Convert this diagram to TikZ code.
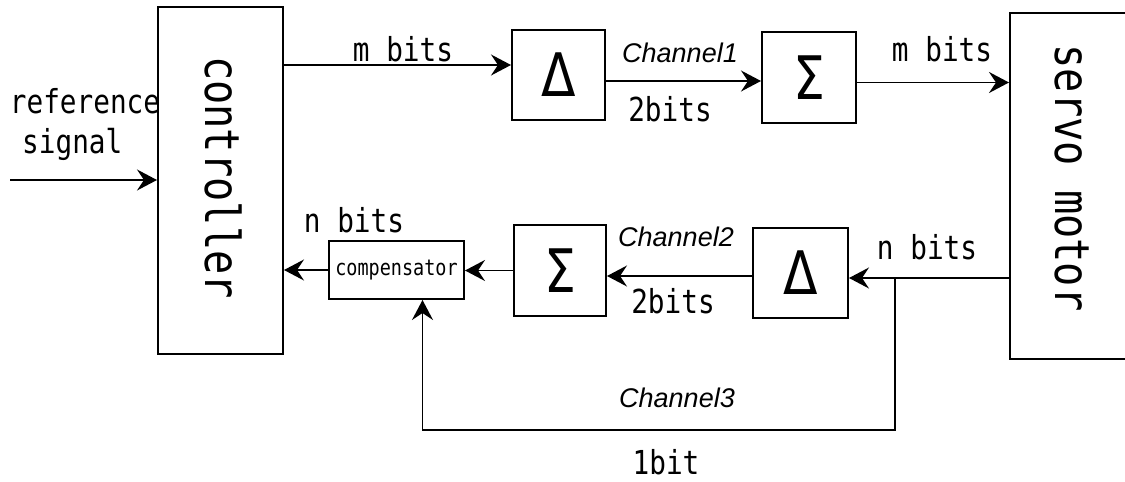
\documentclass[tikz,border=0pt]{standalone}
\usepackage{fontspec}
\newfontfamily\gth[FakeStretch=0.84]{DejaVu Sans Mono}
\newfontfamily\sym[FakeStretch=0.84]{DejaVu Sans}
\newfontfamily\chn{Liberation Sans}
\usetikzlibrary{arrows.meta}

\begin{document}
\begin{tikzpicture}[x=1pt,y=-1pt,
  blk/.style={draw, line width=2pt, inner sep=0pt},
  symb/.style={blk, font=\sym\fontsize{60}{60}\selectfont},
  arr/.style={line width=1.8pt, -{Stealth[length=20pt,width=21pt,inset=7pt]}},
  lbl/.style={font=\gth\fontsize{33}{33}\selectfont, anchor=base, inner sep=0pt},
  chl/.style={font=\chn\itshape\fontsize{27}{27}\selectfont, anchor=base, inner sep=0pt},
  big/.style={font=\gth\fontsize{48}{48}\selectfont, rotate=-90, inner sep=0pt}
]
\useasboundingbox (0,0) rectangle (1125,482);
\clip (0,0) rectangle (1125,482);

% blocks
\node[blk, minimum width=125pt, minimum height=347pt,
      label={[big, xshift=-3pt, yshift=3pt]center:controller}] (ctrl) at (220.5,180.5) {};
\node[symb, minimum width=93pt, minimum height=90pt] (d1) at (558.5,75) {Δ};
\node[symb, minimum width=94pt, minimum height=91pt] (s1) at (809,77.5) {Σ};
\node[blk, minimum width=124pt, minimum height=346pt,
      label={[big, xshift=-8pt]center:servo motor}] (servo) at (1072,186) {};
\node[symb, minimum width=95pt, minimum height=90pt] (d2) at (800.5,273) {Δ};
\node[symb, minimum width=92pt, minimum height=91pt] (s2) at (560,270.5) {Σ};
\node[blk, minimum width=135pt, minimum height=58pt,
      font=\gth\fontsize{22}{22}\selectfont] (comp) at (396.5,270) {compensator};

% forward path
\coordinate (in) at (10,180);
\draw[arr] (in) -- (in -| ctrl.west);
\coordinate (a1) at ([yshift=10pt]d1.west);
\draw[arr] (a1 -| ctrl.east) -- (a1);
\coordinate (a2) at ([yshift=-6pt]d1.east);
\draw[arr] (a2) -- (a2 -| s1.west);
\coordinate (a3) at ([yshift=-5pt]s1.east);
\draw[arr] (a3) -- (a3 -| servo.west);

% feedback path
\coordinate (b1) at ([yshift=-5pt]d2.east);
\draw[arr] (b1 -| servo.west) -- (b1);
\coordinate (b2) at ([yshift=-3pt]d2.west);
\draw[arr] (b2) -- (b2 -| s2.east);
\draw[arr] (s2.west) -- (s2.west -| comp.east);
\draw[arr] (comp.west) -- (comp.west -| ctrl.east);

% one-bit bypass
\coordinate (tap) at (895,278);
\coordinate (lo) at (895,430);
\coordinate (c3) at ([xshift=26pt]comp.south);
\draw[arr] (tap) -- (lo) -| (c3);

% labels
\node[lbl] at (85,113) {reference};
\node[lbl, anchor=base west] at (22,153) {signal};
\node[lbl] at (403,61) {m bits};
\node[chl] at (680,62) {Channel1};
\node[lbl] at (670,121) {2bits};
\node[lbl] at (942,61) {m bits};
\node[lbl] at (927,259) {n bits};
\node[lbl] at (354,232) {n bits};
\node[chl] at (676,246) {Channel2};
\node[lbl] at (673,313) {2bits};
\node[chl] at (677,407) {Channel3};
\node[lbl] at (666,474) {1bit};
\end{tikzpicture}
\end{document}
